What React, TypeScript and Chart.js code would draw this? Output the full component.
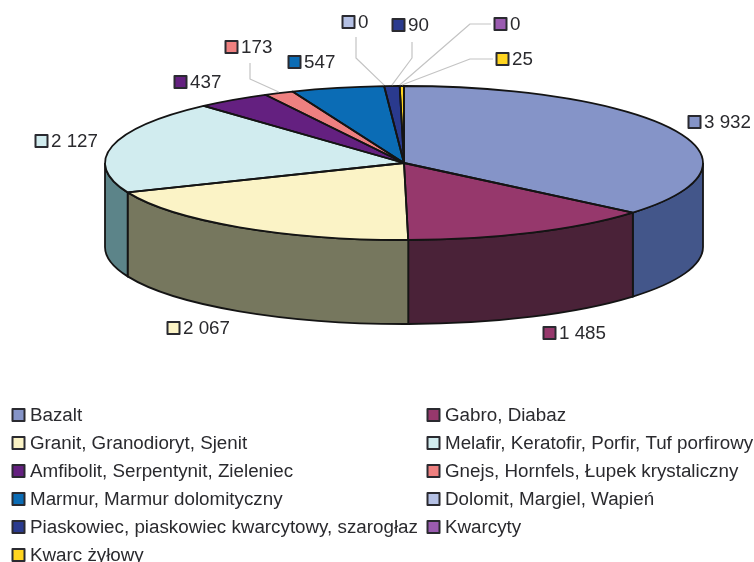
import React, { useEffect, useRef } from "react";
import { Chart, registerables } from "chart.js";

Chart.register(...registerables);

const categories = [
  "Bazalt",
  "Gabro, Diabaz",
  "Granit, Granodioryt, Sjenit",
  "Melafir, Keratofir, Porfir, Tuf porfirowy",
  "Amfibolit, Serpentynit, Zieleniec",
  "Gnejs, Hornfels, Łupek krystaliczny",
  "Marmur, Marmur dolomityczny",
  "Dolomit, Margiel, Wapień",
  "Piaskowiec, piaskowiec kwarcytowy, szarogłaz",
  "Kwarcyty",
  "Kwarc żyłowy",
];
const values = [3932, 1485, 2067, 2127, 437, 173, 547, 0, 90, 0, 25];
const topColors = ["#8594C8", "#96386C", "#FBF3C6", "#D1ECEF", "#642080", "#EE8080", "#0B6CB5", "#B4C0E4", "#2A3A8E", "#9A5BB0", "#FFD520"];
const wallColors = ["#43568A", "#4A2238", "#76775E", "#5C8489", "#32103F", "#774040", "#06365A", "#5A6072", "#151D47", "#4D2E58", "#806A10"];

// Layout of the value labels: swatch left edge and vertical centre, per slice
const labelX = [688, 543, 167, 35, 174, 225, 288, 342, 392, 494, 496];
const labelY = [122, 333, 328, 141, 82, 47, 62, 22, 25, 24, 59];
// Leader-line vertices (label end, elbow) by slice index
const leaders: Record<number, number[][]> = {
  5: [[250, 63], [250, 79]],
  7: [[356, 37], [356, 58]],
  8: [[412, 42], [412, 58]],
  9: [[491, 24], [470, 24]],
  10: [[493, 59], [470, 59]],
};

const W = 754;
const H = 562;
const RX = 299;
const RY = 77;
const DEPTH = 84;
const CX = 404;
const CY = 163;
const FONT = "18.8px 'Liberation Sans', Arial, sans-serif";
const TEXT = "#2a2a2e";
const LINE = "#141414";
const LINE_W = 1.8;

const fmt = (v: number) => String(v).replace(/\B(?=(\d{3})+$)/g, " ");

function swatch(ctx: CanvasRenderingContext2D, x: number, y: number, color: string) {
  ctx.fillStyle = color;
  ctx.strokeStyle = "#2a2a30";
  ctx.lineWidth = 2;
  ctx.fillRect(x + 0.5, y - 6, 12, 12);
  ctx.strokeRect(x + 0.5, y - 6, 12, 12);
}

const pie3d = {
  id: "pie3d",
  beforeDatasetsDraw(chart: any) {
    const ctx: CanvasRenderingContext2D = chart.ctx;
    const arcs = chart.getDatasetMeta(0).data;
    const { x, y, outerRadius } = arcs[0];
    const stretch = RX / outerRadius;
    const rx = outerRadius * stretch;
    ctx.save();
    ctx.lineWidth = LINE_W;
    ctx.strokeStyle = LINE;
    arcs.forEach((a: any, i: number) => {
      const s = Math.max(a.startAngle, 0);
      const e = Math.min(a.endAngle, Math.PI);
      if (e <= s) return;
      ctx.beginPath();
      ctx.ellipse(x, y, rx, outerRadius, 0, s, e);
      ctx.ellipse(x, y + DEPTH, rx, outerRadius, 0, e, s, true);
      ctx.closePath();
      ctx.fillStyle = wallColors[i];
      ctx.fill();
      ctx.stroke();
    });
    ctx.restore();
    ctx.save();
    ctx.translate(x, y);
    ctx.scale(stretch, 1);
    ctx.translate(-x, -y);
  },
  afterDatasetsDraw(chart: any) {
    const ctx: CanvasRenderingContext2D = chart.ctx;
    ctx.restore();
    const arcs = chart.getDatasetMeta(0).data;
    const { x, y, outerRadius } = arcs[0];
    const rx = RX;
    ctx.save();
    ctx.lineWidth = LINE_W;
    ctx.strokeStyle = LINE;
    ctx.lineJoin = "round";
    arcs.forEach((a: any) => {
      if (a.endAngle - a.startAngle <= 0) return;
      ctx.beginPath();
      ctx.moveTo(x, y);
      ctx.ellipse(x, y, rx, outerRadius, 0, a.startAngle, a.endAngle);
      ctx.closePath();
      ctx.stroke();
    });
    // leader lines
    ctx.strokeStyle = "#c4c4c4";
    ctx.lineWidth = 1.2;
    Object.keys(leaders).forEach((k) => {
      const i = Number(k);
      const a = arcs[i];
      const mid = (a.startAngle + a.endAngle) / 2;
      const pts = leaders[i];
      ctx.beginPath();
      ctx.moveTo(pts[0][0], pts[0][1]);
      ctx.lineTo(pts[1][0], pts[1][1]);
      ctx.lineTo(x + rx * Math.cos(mid), y + outerRadius * Math.sin(mid) - 1);
      ctx.stroke();
    });
    // value labels
    ctx.font = FONT;
    ctx.textBaseline = "middle";
    values.forEach((v, i) => {
      swatch(ctx, labelX[i], labelY[i], topColors[i]);
      ctx.fillStyle = TEXT;
      ctx.fillText(fmt(v), labelX[i] + 16, labelY[i] + 0.5);
    });
    // legend, two columns
    categories.forEach((c, i) => {
      const col = i % 2;
      const row = Math.floor(i / 2);
      const lx = col === 0 ? 12 : 427;
      const ly = 415 + row * 28;
      swatch(ctx, lx, ly, topColors[i]);
      ctx.fillStyle = TEXT;
      ctx.fillText(c, lx + 18, ly + 0.5);
    });
    ctx.restore();
  },
};

export default function App() {
  const ref = useRef<HTMLCanvasElement>(null);
  useEffect(() => {
    document.body.style.margin = "0";
    document.body.style.background = "#fff";
    const chart = new Chart(ref.current as HTMLCanvasElement, {
      type: "pie",
      data: {
        labels: categories,
        datasets: [{ data: values, backgroundColor: topColors, borderWidth: 0, clip: false } as any],
      },
      options: {
        responsive: false,
        animation: false,
        layout: {
          padding: { left: CX - RY, right: W - CX - RY, top: CY - RY, bottom: H - CY - RY },
        },
        plugins: { legend: { display: false }, tooltip: { enabled: false } },
      },
      plugins: [pie3d as any],
    });
    return () => chart.destroy();
  }, []);
  return <canvas ref={ref} width={W} height={H} style={{ display: "block" }} />;
}
